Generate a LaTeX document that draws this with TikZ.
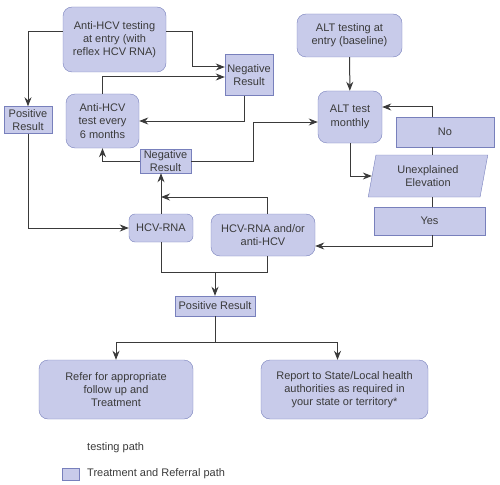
\documentclass[tikz,border=0pt]{standalone}
\usepackage{fontspec}
\setmainfont{Liberation Sans}
\usetikzlibrary{shapes.geometric,arrows.meta}
\definecolor{boxfill}{HTML}{C8CBEA}
\definecolor{boxline}{HTML}{7880BC}
\definecolor{ink}{HTML}{3A3A3A}

\begin{document}
\begin{tikzpicture}[x=1pt,y=-1pt,>={Stealth[length=9pt,width=7pt]}]
   \tikzstyle{every node}=[font=\fontsize{11}{13.3}\selectfont,text=ink,align=center]
   \tikzstyle{rbox}=[draw=boxline,fill=boxfill,rounded corners=9pt,inner sep=0pt]
   \tikzstyle{sbox}=[draw=boxline,fill=boxfill,inner sep=0pt]
   \tikzstyle{line}=[draw=ink,line width=1pt]

   \useasboundingbox (0,0) rectangle (500,484);

   % left column: anti-HCV testing
   \node (ent) [rbox,minimum width=103pt,minimum height=65pt] at (114.5,39.5) {Anti-HCV testing\\at entry (with\\reflex HCV RNA)} ;
   \node (neg1) [sbox,minimum width=48pt,minimum height=41pt] at (249,75) {Negative\\Result} ;
   \node (pos1) [sbox,minimum width=48pt,minimum height=27pt] at (28,120) {Positive\\Result} ;
   \node (six) [rbox,minimum width=73pt,minimum height=54pt] at (102.5,121) {Anti-HCV\\test every\\6 months} ;
   \node (neg2) [sbox,minimum width=51pt,minimum height=24pt] at (165.5,161) {Negative\\Result} ;
   \node (rna) [rbox,rounded corners=6pt,minimum width=64pt,minimum height=28pt] at (161,228) {HCV-RNA} ;
   \node (rna2) [rbox,minimum width=104pt,minimum height=42pt] at (263,235) {HCV-RNA and/or\\anti-HCV} ;
   \node (pos2) [sbox,minimum width=80pt,minimum height=20pt] at (215,306) {Positive Result} ;
   \node (ref) [rbox,minimum width=154pt,minimum height=59pt] at (116,389.5) {Refer for appropriate\\follow up and\\Treatment} ;
   \node (rep) [rbox,minimum width=167pt,minimum height=59pt] at (344.5,389.5) {Report to State/Local health\\authorities as required in\\your state or territory*} ;

   % right column: ALT testing
   \node (alt) [rbox,minimum width=105pt,minimum height=43pt] at (349.5,35.5) {ALT testing at\\entry (baseline)} ;
   \node (altm) [rbox,minimum width=64pt,minimum height=52pt] at (350,117) {ALT test\\monthly} ;
   \node (no) [sbox,minimum width=98pt,minimum height=30pt] at (445,132) {No} ;
   \node (une) [sbox,trapezium,trapezium left angle=78,trapezium right angle=102,trapezium stretches=true,
      minimum width=120pt,minimum height=42pt] at (428,176) {Unexplained\\Elevation} ;
   \node (yes) [sbox,minimum width=111pt,minimum height=28pt] at (429.5,221) {Yes} ;

   % legend
   \node (lg1) [anchor=west,inner sep=0pt] at (87,448) {testing path} ;
   \node (lgb) [sbox,minimum width=17pt,minimum height=12pt] at (70.5,474) {} ;
   \node (lg2) [anchor=west,inner sep=0pt] at (87,474) {Treatment and Referral path} ;

   \coordinate (jn) at (rna.north |- 0,197) ;

   \draw [line,->] ([yshift=7.5pt]ent.east) -| ([xshift=-32pt,yshift=8pt]neg1.west) -- ([yshift=8pt]neg1.west) ;
   \draw [line,->] (six.north) |- ([yshift=-2pt]neg1.west) ;
   \draw [line,->] ([xshift=-5pt]neg1.south) |- (six.east) ;
   \draw [line,->] ([yshift=7.5pt]ent.west) -| (pos1.north) ;
   \draw [line,->] (neg2.west) -| (six.south) ;
   \draw [line,->] (neg2.east) -| ([xshift=-64pt,yshift=-5pt]altm.west) -- ([yshift=-5pt]altm.west) ;
   \draw [line,->] (rna.north) -- (rna.north |- neg2.south) ;
   \draw [line,->] ([xshift=4pt]rna2.north) |- (jn) ;
   \draw [line,->] (pos1.south) |- (rna.west) ;
   \draw [line] (rna.south) -- ++(0,30) -| ([xshift=4pt]rna2.south) ;
   \draw [line,->] (pos2.north |- 0,272) -- (pos2.north) ;
   \draw [line,->] (pos2.south) -- ++(0,26) -| (ref.north) ;
   \draw [line,->] (pos2.south) -- ++(0,26) -| ([xshift=-7pt]rep.north) ;

   \draw [line,->] (alt) -- (altm) ;
   \draw [line,->] (altm.south) |- (une.west) ;
   \draw [line] ([xshift=4pt]une.north) -- ([xshift=4pt]une.north |- no.south) ;
   \draw [line,->] ([xshift=-13pt]no.north) |- ([yshift=10pt]altm.east) ;
   \draw [line] ([xshift=4pt]une.south) -- ([xshift=4pt]une.south |- yes.north) ;
   \draw [line,->] ([xshift=2.5pt]yes.south) |- ([yshift=-11pt]rna2.east) ;

\end{tikzpicture}
\end{document}
